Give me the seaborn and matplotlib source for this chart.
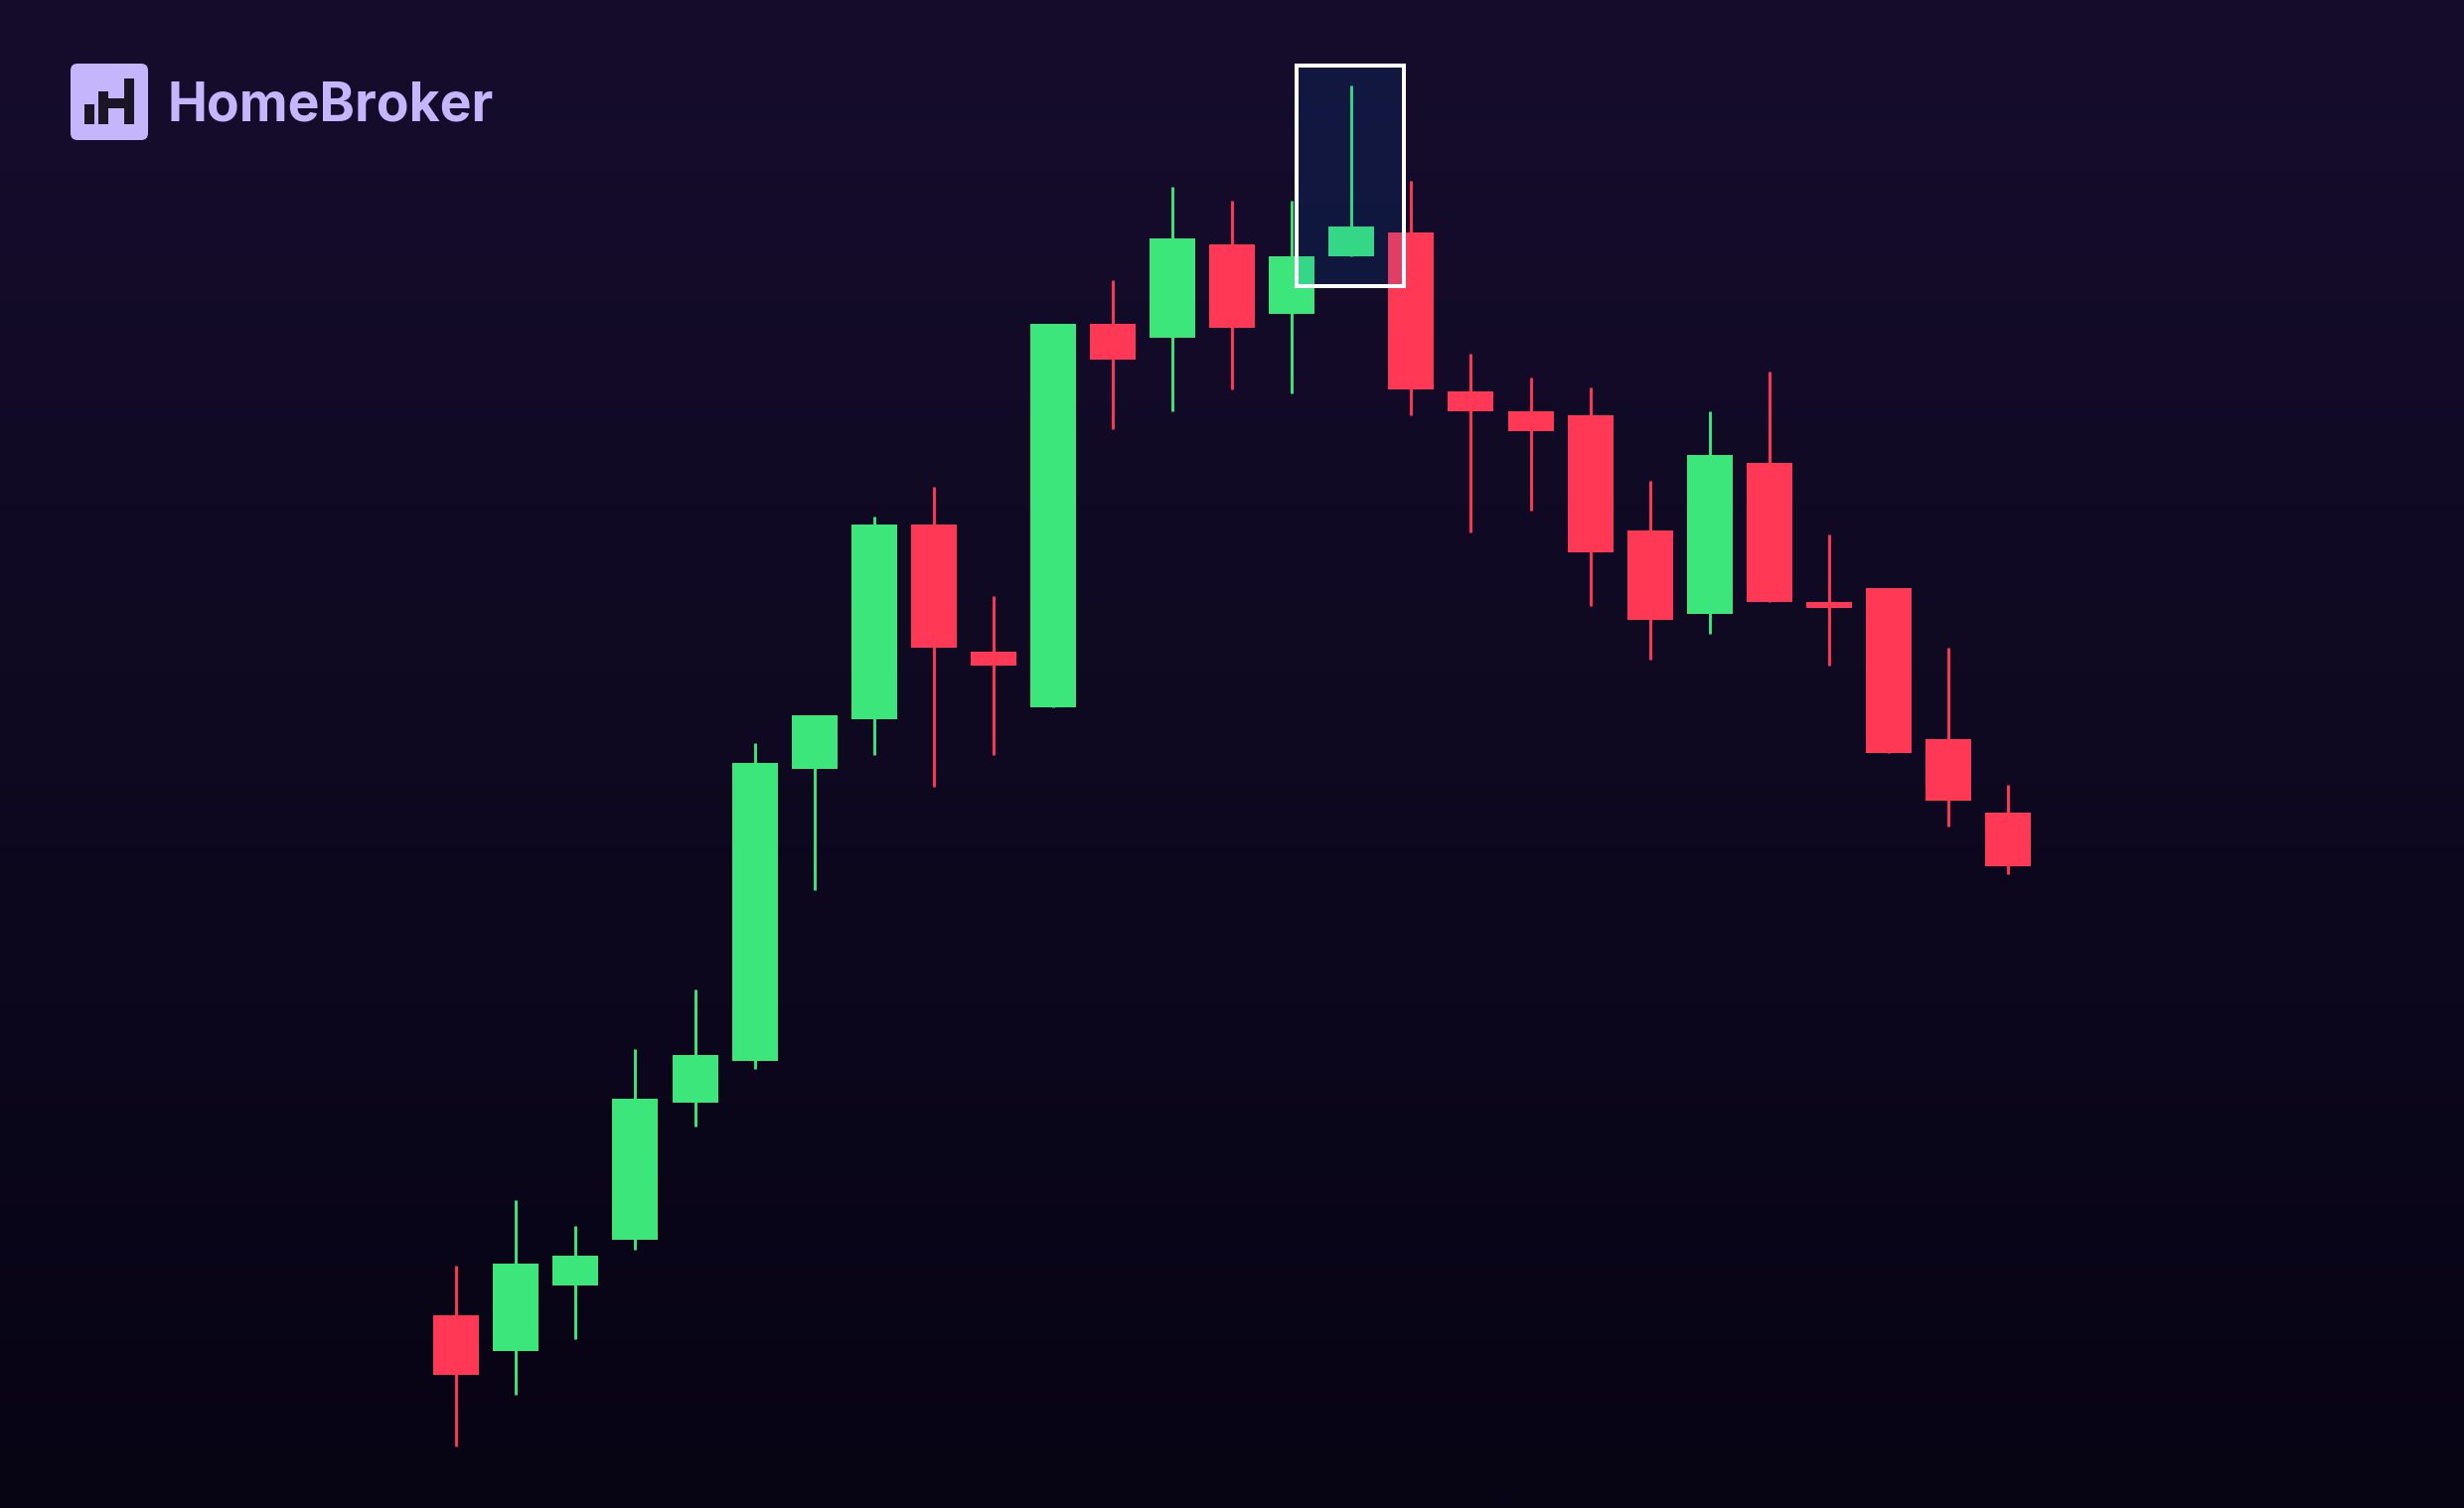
import numpy as np
import pandas as pd
import matplotlib
matplotlib.use("Agg")
import matplotlib.pyplot as plt
from matplotlib.patches import Rectangle, FancyBboxPatch
import seaborn as sns

# OHLC prices, one candle per session
opens = [19.4, 15.8, 22.4, 27.0, 40.8, 45.0, 74.4, 79.4, 99.0, 86.2, 80.6, 119.2, 117.8, 127.2,
         120.2, 126.0, 128.4, 112.4, 110.4, 110.0, 98.4, 90.0, 105.2, 91.2, 92.6, 77.4, 70.0]
highs = [24.4, 31.0, 28.4, 46.2, 52.2, 77.0, 79.8, 99.8, 102.8, 91.8, 119.2, 123.6, 133.0, 131.6,
         131.6, 143.2, 133.6, 116.2, 113.8, 112.8, 103.4, 110.4, 114.4, 98.0, 92.6, 86.6, 72.8]
lows = [6.2, 11.4, 17.0, 26.0, 38.4, 44.2, 62.2, 75.8, 72.6, 75.8, 80.6, 108.6, 110.4, 112.6,
        112.2, 126.0, 110.0, 98.2, 100.4, 90.8, 85.4, 88.0, 91.2, 84.8, 76.0, 68.6, 63.8]
closes = [13.4, 24.6, 25.4, 41.2, 45.6, 75.0, 79.8, 99.0, 86.6, 84.8, 119.2, 115.6, 127.8, 118.8,
          126.0, 129.0, 112.6, 110.4, 108.4, 96.2, 89.4, 106.0, 91.2, 90.6, 76.0, 71.2, 64.6]
highlight = 15

GREEN = "#3ce67a"
RED = "#ff3855"
LOGO = "#c4b5fd"

df = pd.DataFrame({"open": opens, "high": highs, "low": lows, "close": closes})
df["x"] = np.arange(len(df))
df["up"] = df["close"] >= df["open"]
df["color"] = np.where(df["up"], GREEN, RED)
df["bottom"] = df[["open", "close"]].min(axis=1)
df["body"] = (df["close"] - df["open"]).abs()

sns.set_style("dark")
plt.rcParams["font.family"] = ["Inter", "DejaVu Sans"]

fig = plt.figure(figsize=(24.8, 15.18), dpi=100)

# background gradient
bg = fig.add_axes([0, 0, 1, 1], zorder=0)
top = np.array([22, 13, 45]) / 255
bot = np.array([7, 4, 20]) / 255
t = np.linspace(0, 1, 512)[:, None, None]
bg.imshow(top + (bot - top) * t, aspect="auto", extent=[0, 1, 0, 1], origin="upper")
bg.axis("off")

# candles
ax = fig.add_axes([0, 0, 1, 1], zorder=1)
ax.patch.set_alpha(0)
ax.vlines(df["x"], df["low"], df["high"], colors=df["color"], linewidth=2.1, zorder=2)
ax.bar(df["x"], df["body"], bottom=df["bottom"], width=0.766, color=df["color"],
       linewidth=0, zorder=3)

hl = df.iloc[highlight]
ax.add_patch(Rectangle((hl["x"] - 0.922, 123.0), 1.80, 22.2,
                       facecolor=(0.0, 0.43, 0.86, 0.12), edgecolor="white",
                       linewidth=2.9, zorder=4))

ax.set_xlim(-7.646, 33.64)
ax.set_ylim(0, 151.8)
ax.axis("off")

# logo
lg = fig.add_axes([0, 0, 1, 1], zorder=2)
lg.set_xlim(0, 2480)
lg.set_ylim(1518, 0)
lg.axis("off")
lg.add_patch(FancyBboxPatch((71, 64), 78, 77, boxstyle="round,pad=0,rounding_size=7",
                            facecolor=LOGO, edgecolor="none"))
for (x0, y0, w, h) in [(85, 105, 10, 20), (99, 92, 10, 33), (125, 79, 10, 46), (108, 99, 18, 10)]:
    lg.add_patch(Rectangle((x0, y0), w, h, facecolor="#1a1626", edgecolor="none"))
lg.text(169, 122, "HomeBroker", fontsize=38.5, fontweight="bold", color=LOGO,
        ha="left", va="baseline")

fig.savefig("out.png", dpi=100)
